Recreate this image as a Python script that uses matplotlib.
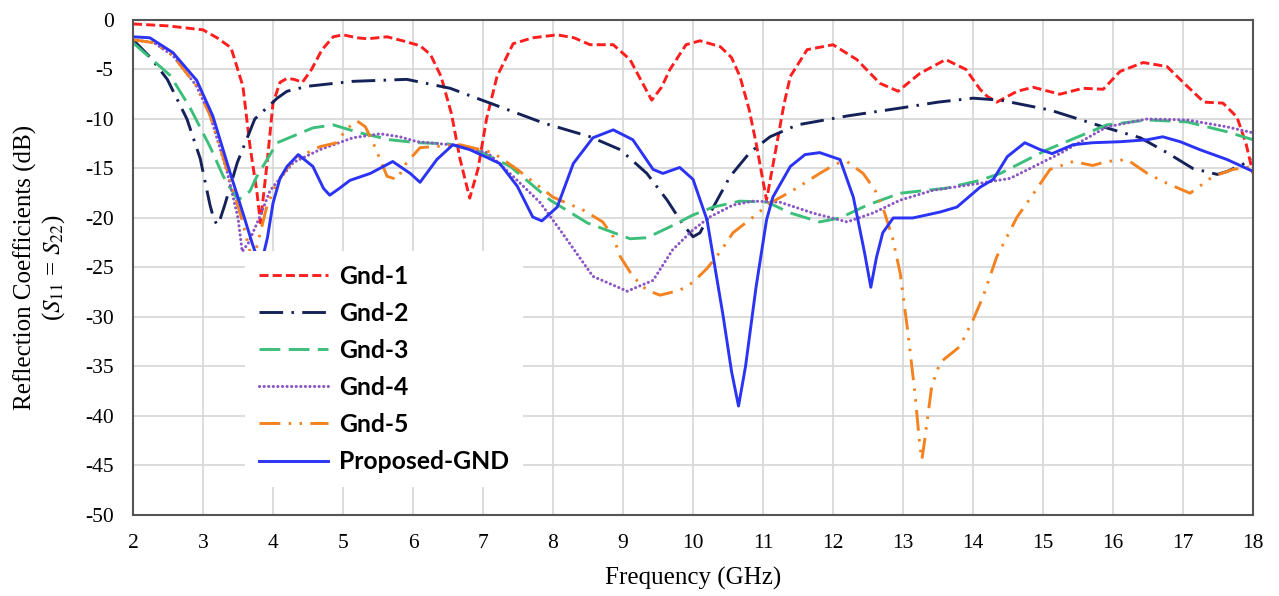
import matplotlib
matplotlib.use("Agg")
import matplotlib.pyplot as plt

plt.rcParams["lines.scale_dashes"] = False
plt.rcParams["mathtext.fontset"] = "stix"
plt.rcParams["axes.unicode_minus"] = False

# Frequency sweep (GHz) and reflection coefficient (dB) for each ground variant
freq_gnd1 = [2.0, 2.5, 3.0, 3.2, 3.4, 3.57, 3.67, 3.77, 3.82, 3.91, 4.0, 4.1, 4.2, 4.3,
             4.42, 4.55, 4.7, 4.86, 5.0, 5.2, 5.35, 5.63, 5.85, 6.1, 6.25, 6.4, 6.55,
             6.67, 6.81, 6.93, 7.05, 7.2, 7.43, 7.71, 8.06, 8.3, 8.53, 8.86, 9.1, 9.25,
             9.41, 9.55, 9.67, 9.9, 10.1, 10.39, 10.55, 10.67, 10.8, 10.9, 11.05, 11.2,
             11.3, 11.39, 11.63, 12.0, 12.34, 12.67, 12.93, 13.24, 13.61, 13.9, 14.1,
             14.2, 14.34, 14.63, 14.86, 15.24, 15.57, 15.86, 16.1, 16.43, 16.77, 17.06,
             17.3, 17.57, 17.77, 17.9, 18.0]
s_gnd1 = [-0.4, -0.6, -1.0, -1.8, -2.8, -6.7, -12.7, -17.4, -20.5, -14.8, -8.4, -6.3,
          -5.9, -6.0, -6.3, -5.0, -3.0, -1.7, -1.5, -1.8, -1.9, -1.7, -2.1, -2.6, -3.5,
          -5.7, -9.5, -14.0, -18.0, -15.0, -10.0, -5.7, -2.4, -1.8, -1.5, -1.8, -2.5,
          -2.5, -4.0, -6.0, -8.1, -6.8, -5.0, -2.5, -2.1, -2.7, -3.8, -5.7, -9.0, -12.4,
          -18.2, -12.4, -8.5, -5.7, -3.0, -2.5, -4.0, -6.4, -7.2, -5.4, -4.0, -5.0,
          -7.0, -7.7, -8.3, -7.2, -6.8, -7.5, -6.9, -7.0, -5.2, -4.3, -4.7, -6.7, -8.3,
          -8.4, -9.8, -12.5, -15.5]

freq_gnd2 = [2.0, 2.25, 2.49, 2.77, 2.96, 3.1, 3.15, 3.2, 3.25, 3.31, 3.49, 3.74, 4.06,
             4.2, 4.49, 5.14, 5.91, 6.53, 7.1, 7.86, 8.53, 8.96, 9.34, 9.63, 9.86, 10.0,
             10.1, 10.29, 10.53, 10.81, 11.1, 11.49, 12.2, 12.96, 13.5, 14.0, 14.39,
             15.1, 15.86, 16.39, 16.77, 17.14, 17.49, 17.63, 18.0]
s_gnd2 = [-2.0, -3.8, -6.0, -10.0, -14.0, -18.7, -20.0, -20.7, -20.0, -18.7, -14.4,
          -10.0, -7.9, -7.2, -6.7, -6.2, -6.0, -6.9, -8.4, -10.4, -11.8, -13.1, -15.5,
          -18.2, -20.7, -21.9, -21.5, -18.9, -15.8, -13.4, -11.8, -10.6, -9.7, -8.9,
          -8.3, -7.9, -8.1, -9.1, -10.8, -11.9, -13.4, -15.0, -15.6, -15.3, -14.1]

freq_gnd3 = [2.0, 2.53, 2.81, 3.1, 3.29, 3.5, 3.67, 3.77, 4.06, 4.57, 4.86, 5.24, 5.67,
             6.06, 6.49, 6.96, 7.39, 7.96, 8.49, 9.1, 9.34, 9.67, 10.0, 10.29, 10.67,
             11.06, 11.39, 11.81, 12.1, 12.49, 12.96, 13.61, 14.1, 14.39, 15.06, 15.91,
             16.49, 17.06, 17.63, 18.0]
s_gnd3 = [-2.3, -5.6, -8.8, -12.8, -15.8, -18.2, -17.3, -15.8, -12.4, -10.9, -10.6,
          -11.4, -12.1, -12.4, -12.5, -13.3, -14.8, -18.2, -20.5, -22.1, -22.0, -20.9,
          -19.7, -18.9, -18.3, -18.4, -19.5, -20.4, -20.0, -18.7, -17.5, -17.0, -16.2,
          -15.5, -13.1, -10.6, -10.1, -10.3, -11.3, -12.1]

freq_gnd4 = [2.0, 2.3, 2.57, 2.9, 3.1, 3.35, 3.5, 3.56, 3.65, 3.81, 3.96, 4.29, 4.67,
             5.14, 5.53, 5.81, 6.06, 6.53, 7.06, 7.43, 7.81, 8.1, 8.57, 9.06, 9.43, 9.71,
             10.0, 10.24, 10.57, 10.86, 11.24, 11.71, 12.2, 12.57, 12.96, 13.43, 14.1,
             14.53, 15.24, 15.91, 16.49, 17.06, 17.63, 18.0]
s_gnd4 = [-2.0, -2.3, -3.6, -6.6, -9.6, -15.5, -20.0, -23.4, -22.5, -19.9, -17.2,
          -14.4, -13.1, -11.9, -11.5, -11.8, -12.3, -12.6, -13.4, -15.8, -18.4, -21.2,
          -25.9, -27.4, -26.3, -23.2, -21.2, -19.9, -18.7, -18.3, -18.4, -19.5, -20.4,
          -19.5, -18.2, -17.2, -16.5, -16.0, -13.5, -10.8, -10.0, -10.1, -10.8, -11.4]

freq_gnd5 = [2.0, 2.3, 2.57, 2.9, 3.1, 3.35, 3.55, 3.71, 3.8, 3.91, 4.05, 4.29, 4.67,
             4.91, 5.05, 5.2, 5.32, 5.43, 5.63, 5.77, 5.9, 6.1, 6.67, 7.14, 7.49, 8.0,
             8.43, 8.71, 8.86, 8.96, 9.14, 9.34, 9.53, 9.81, 10.0, 10.2, 10.39, 10.57,
             10.86, 11.1, 11.43, 11.81, 12.05, 12.2, 12.43, 12.6, 12.71, 12.85, 12.96,
             13.07, 13.17, 13.24, 13.27, 13.31, 13.41, 13.53, 13.81, 14.0, 14.14, 14.34,
             14.63, 14.77, 15.1, 15.43, 15.71, 15.91, 16.2, 16.49, 16.77, 17.1, 17.43,
             17.71, 18.0]
s_gnd5 = [-2.0, -2.3, -3.6, -6.6, -9.6, -15.3, -20.0, -24.5, -22.0, -18.9, -16.5,
          -14.1, -12.8, -12.4, -11.0, -10.2, -10.8, -12.4, -15.8, -16.1, -14.5, -12.9,
          -12.6, -13.4, -15.1, -17.9, -19.2, -20.4, -21.9, -23.9, -25.9, -27.3, -27.8,
          -27.3, -26.5, -25.1, -23.4, -21.5, -19.9, -18.5, -17.2, -15.5, -14.5, -14.3,
          -15.5, -17.2, -18.9, -22.0, -25.6, -31.6, -37.7, -43.0, -44.4, -42.4, -37.0,
          -34.6, -33.0, -30.3, -28.0, -23.9, -19.9, -18.5, -15.1, -14.3, -14.7, -14.3,
          -14.1, -15.5, -16.5, -17.5, -15.8, -15.1, -14.8]

freq_prop = [2.0, 2.24, 2.57, 2.91, 3.14, 3.39, 3.57, 3.7, 3.82, 3.92, 4.0, 4.1, 4.2,
             4.36, 4.57, 4.72, 4.81, 4.95, 5.1, 5.39, 5.71, 5.96, 6.1, 6.34, 6.57, 6.81,
             7.06, 7.24, 7.49, 7.71, 7.84, 8.06, 8.29, 8.57, 8.86, 9.14, 9.43, 9.57,
             9.81, 10.0, 10.2, 10.43, 10.55, 10.65, 10.75, 10.9, 11.05, 11.14, 11.39,
             11.6, 11.81, 12.1, 12.29, 12.45, 12.54, 12.62, 12.71, 12.86, 13.14, 13.53,
             13.77, 14.1, 14.29, 14.49, 14.74, 14.96, 15.13, 15.43, 15.71, 16.1, 16.49,
             16.71, 16.96, 17.24, 17.63, 18.0]
s_prop = [-1.7, -1.8, -3.3, -6.1, -9.7, -15.5, -19.5, -22.5, -25.0, -22.0, -18.5,
          -16.0, -14.8, -13.6, -14.8, -17.0, -17.7, -17.0, -16.2, -15.5, -14.3, -15.5,
          -16.4, -14.1, -12.6, -13.1, -13.9, -14.5, -16.8, -19.9, -20.3, -18.9, -14.5,
          -11.9, -11.1, -12.1, -15.1, -15.5, -14.9, -16.1, -20.2, -29.9, -35.5, -39.0,
          -35.0, -27.0, -20.2, -17.9, -14.8, -13.6, -13.4, -14.1, -17.9, -23.5, -27.0,
          -24.0, -21.5, -20.0, -20.0, -19.4, -18.9, -16.9, -16.1, -13.8, -12.4, -13.1,
          -13.5, -12.6, -12.4, -12.3, -12.1, -11.8, -12.3, -13.1, -14.1, -15.3]

series_labels = ["Gnd-1", "Gnd-2", "Gnd-3", "Gnd-4", "Gnd-5", "Proposed-GND"]
x_ticks = list(range(2, 19))
y_ticks = list(range(-50, 1, 5))

fig = plt.figure(figsize=(12.79, 5.96), dpi=100)
ax = fig.add_axes([0.104, 0.136, 0.8757, 0.8305])

ax.plot(freq_gnd1, s_gnd1, color="#FF1E1E", lw=2.1, dashes=(6.5, 3),
        label=series_labels[0])
ax.plot(freq_gnd2, s_gnd2, color="#15225A", lw=2.1, dashes=(17, 6, 1.8, 6),
        label=series_labels[1])
ax.plot(freq_gnd3, s_gnd3, color="#3CBF7A", lw=2.1, dashes=(15, 6),
        label=series_labels[2])
ax.plot(freq_gnd4, s_gnd4, color="#8A55C4", lw=2.2, dashes=(0.1, 3.2),
        dash_capstyle="round", label=series_labels[3])
ax.plot(freq_gnd5, s_gnd5, color="#F5821F", lw=2.1, dashes=(15, 6, 1.8, 6, 1.8, 6),
        label=series_labels[4])
ax.plot(freq_prop, s_prop, color="#2B33F5", lw=2.1, label=series_labels[5])

ax.set_xlim(2, 18)
ax.set_ylim(-50, 0)
ax.set_xticks(x_ticks)
ax.set_yticks(y_ticks)
ax.grid(True, color="#D9D9D9", lw=1.3)
ax.set_axisbelow(True)
ax.tick_params(length=0, labelsize=15.5)
ax.tick_params(axis="x", pad=14)
ax.tick_params(axis="y", pad=14)
for lab in ax.get_xticklabels() + ax.get_yticklabels():
    lab.set_fontfamily("Liberation Serif")
for sp in ax.spines.values():
    sp.set_color("#555555")
    sp.set_linewidth(1.5)

ax.set_xlabel("Frequency (GHz)", fontsize=18, family="Liberation Serif", labelpad=10)
ax.set_ylabel("Reflection Coefficients (dB)\n($S_{11}$ = $S_{22}$)", fontsize=18,
              family="Liberation Serif", labelpad=13, linespacing=1.15)

leg = ax.legend(loc="upper left", bbox_to_anchor=(0.1, 0.533), borderaxespad=0,
                frameon=True, fancybox=False, facecolor="white", edgecolor="none",
                framealpha=1, handlelength=2.8, handletextpad=0.45,
                labelspacing=0.57, borderpad=0.55,
                prop={"family": "Lato", "weight": "bold", "size": 17.8})

fig.savefig("out.png", dpi=100)
